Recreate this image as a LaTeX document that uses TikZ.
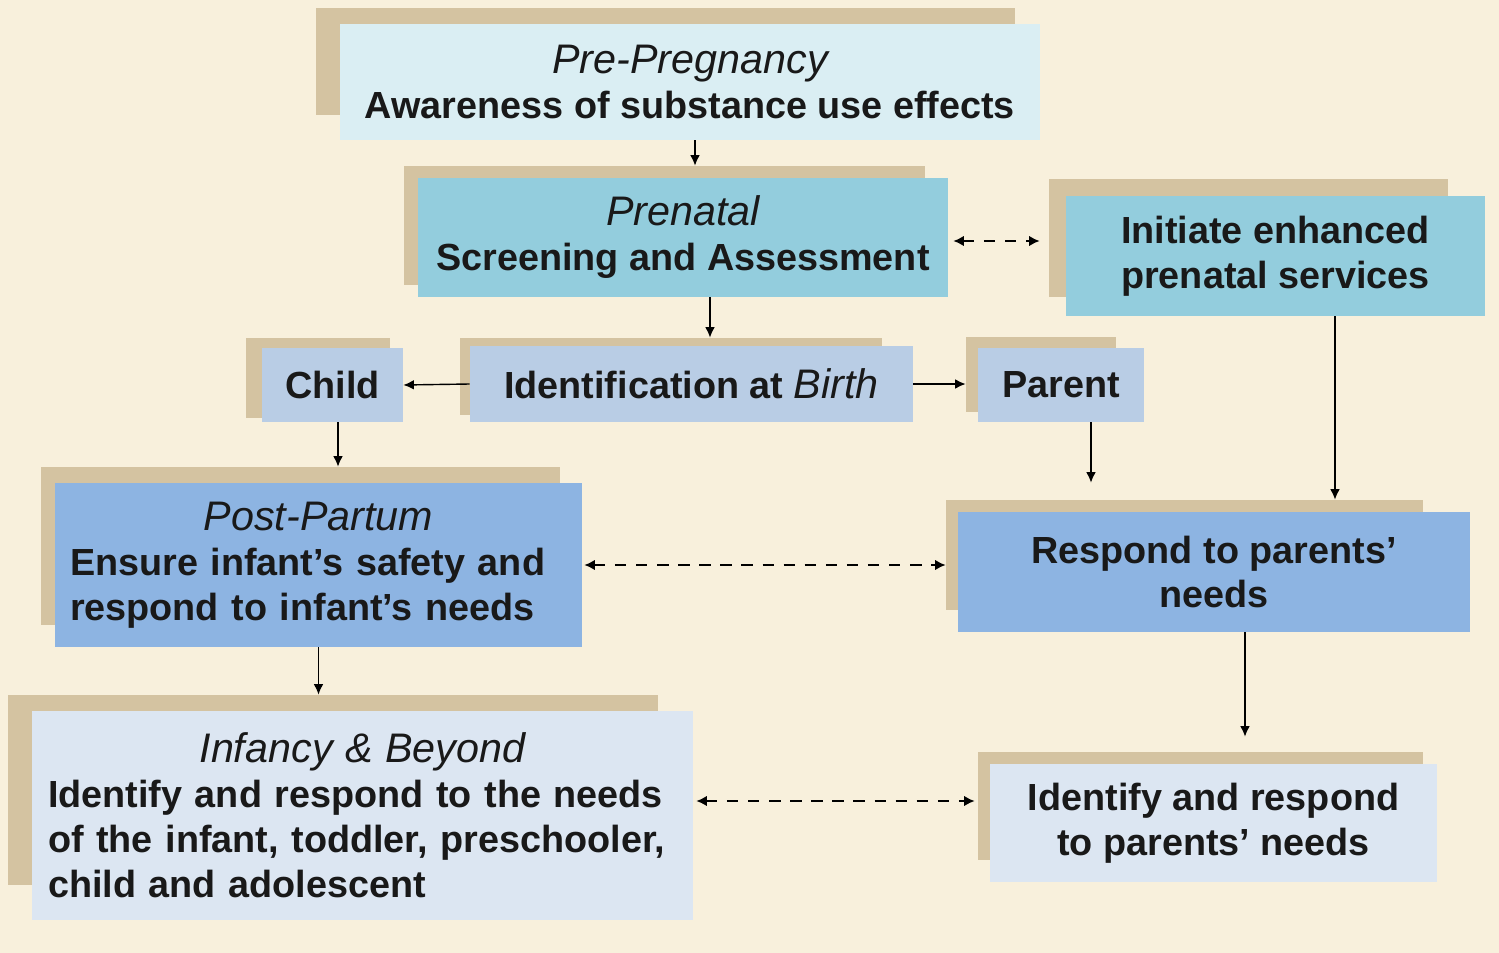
\documentclass[tikz,border=0pt]{standalone}
\usepackage{fontspec}
\setmainfont{Liberation Sans}
\usetikzlibrary{arrows.meta}
\definecolor{cream}{HTML}{F8F0DC}
\definecolor{tan}{HTML}{D4C3A1}
\definecolor{paleblue}{HTML}{DAEEF3}
\definecolor{aqua}{HTML}{93CDDD}
\definecolor{steel}{HTML}{B9CDE5}
\definecolor{midblue}{HTML}{8DB4E2}
\definecolor{mist}{HTML}{DCE6F2}
\newcommand{\hand}[1]{{\mdseries\itshape\fontsize{23.5}{25.6}\selectfont #1}}
\tikzset{
  shadowbox/.style={fill=tan, inner sep=0pt},
  box/.style={inner sep=0pt, align=center, text=black!90,
    font=\bfseries\fontsize{21.5}{25.6}\selectfont},
  arr/.style={-{Latex[length=6pt,width=5.5pt]}, line width=0.8pt},
  link/.style={{Latex[length=6pt,width=6pt]}-{Latex[length=6pt,width=6pt]},
    line width=1.1pt, dash pattern=on 6.5pt off 5.5pt},
}
\begin{document}
\begin{tikzpicture}[x=0.02cm, y=-0.02cm]
		\fill[cream] (0,0) rectangle (1499,953);
		% shadows
		\node[shadowbox, minimum width=13.98cm, minimum height=2.14cm] (preS) at (665.5,61.5) {};
		\node[shadowbox, minimum width=10.42cm, minimum height=2.38cm] (prenatalS) at (664.5,225.5) {};
		\node[shadowbox, minimum width=7.98cm, minimum height=2.36cm] (initiateS) at (1248.5,238) {};
		\node[shadowbox, minimum width=2.88cm, minimum height=1.6cm] (childS) at (318,378) {};
		\node[shadowbox, minimum width=8.44cm, minimum height=1.54cm] (birthS) at (671,376.5) {};
		\node[shadowbox, minimum width=3cm, minimum height=1.5cm] (parentS) at (1041,374.5) {};
		\node[shadowbox, minimum width=10.38cm, minimum height=3.16cm] (postS) at (300.5,546) {};
		\node[shadowbox, minimum width=9.54cm, minimum height=2.2cm] (respondS) at (1184.5,555) {};
		\node[shadowbox, minimum width=13cm, minimum height=3.8cm] (infancyS) at (333,790) {};
		\node[shadowbox, minimum width=8.9cm, minimum height=2.16cm] (needsS) at (1200.5,806) {};
		% boxes
		\node[box, fill=paleblue, minimum width=14cm, minimum height=2.32cm] (pre) at (690,82)
			{\hand{Pre-Pregnancy}\\Awareness of substance use effects};
		\node[box, fill=aqua, minimum width=10.6cm, minimum height=2.38cm] (prenatal) at (683,237.5)
			{\hand{Prenatal}\\Screening and Assessment};
		\node[box, fill=aqua, minimum width=8.38cm, minimum height=2.4cm] (initiate) at (1275.5,256)
			{Initiate enhanced\\prenatal services};
		\node[box, fill=steel, minimum width=2.82cm, minimum height=1.48cm] (child) at (332.5,385) {Child};
		\node[box, fill=steel, minimum width=8.86cm, minimum height=1.52cm] (birth) at (691.5,384)
			{Identification at \hand{Birth}};
		\node[box, fill=steel, minimum width=3.32cm, minimum height=1.48cm] (parent) at (1061,385) {Parent};
		\node[box, fill=midblue, text width=9.94cm, inner xsep=0.3cm, align=left,
			minimum height=3.28cm] (post) at (318.5,565)
			{\makebox[\hsize]{\hand{Post-Partum}}\\Ensure infant’s safety and\\respond to infant’s needs};
		\node[box, fill=midblue, minimum width=10.24cm, minimum height=2.4cm] (respond) at (1214,572)
			{Respond to parents’\\needs};
		\node[box, fill=mist, text width=12.58cm, inner xsep=0.32cm, align=left,
			minimum height=4.18cm] (infancy) at (362.5,815.5)
			{\makebox[\hsize]{\hand{Infancy \& Beyond}}\\Identify and respond to the needs\\of the infant, toddler, preschooler,\\child and adolescent};
		\node[box, fill=mist, minimum width=8.94cm, minimum height=2.36cm] (needs) at (1213.5,823)
			{Identify and respond\\to parents’ needs};
		% connectors
		\draw[arr] ([xshift=0.1cm]pre.south) -- ([xshift=0.1cm]pre.south |- prenatalS.north);
		\draw[arr] ([xshift=0.54cm]prenatal.south) -- ([xshift=0.54cm]prenatal.south |- birthS.north);
		\draw[arr] (birth.west) -- (child.east);
		\draw[arr] (birth.east) -- (birth.east -| parentS.west);
		\draw[link, shorten <=0.1cm, shorten >=0.18cm] ([yshift=-0.07cm]prenatal.east) -- ([yshift=-0.07cm]prenatal.east -| initiateS.west);
		\draw[arr] ([xshift=0.11cm]child.south) -- ([xshift=0.11cm]child.south |- postS.north);
		\draw[arr, shorten >=0.34cm] ([xshift=0.6cm]parent.south) -- ([xshift=0.6cm]parent.south |- respondS.north);
		\draw[arr] ([xshift=1.19cm]initiate.south) -- ([xshift=1.19cm]initiate.south |- respondS.north);
		\draw[link, shorten <=0.04cm] (post.east) -- (post.east -| respondS.west);
		\draw[arr] (post.south) -- (post.south |- infancyS.north);
		\draw[arr, shorten >=0.3cm] ([xshift=0.62cm]respond.south) -- ([xshift=0.62cm]respond.south |- needsS.north);
		\draw[link, shorten <=0.06cm, shorten >=0.06cm] ([yshift=0.29cm]infancy.east) -- ([yshift=0.29cm]infancy.east -| needsS.west);
	\end{tikzpicture}
\end{document}
